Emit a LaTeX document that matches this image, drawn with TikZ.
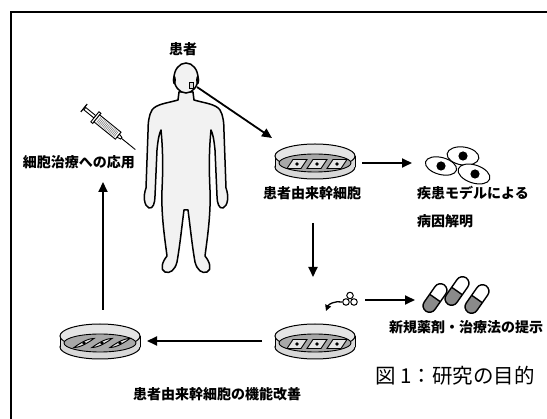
\documentclass[tikz,border=0pt]{standalone}
\usepackage{fontspec}
\newfontfamily\cjk{Noto Sans CJK JP}
\usetikzlibrary{arrows.meta}
\definecolor{bodyfill}{HTML}{F2F2F2}
\definecolor{wallfill}{HTML}{D8D8D8}
\definecolor{rimfill}{HTML}{E4E4E4}
\definecolor{mediumfill}{HTML}{A8A8A8}
\definecolor{pillgray}{HTML}{8A8A8A}
\tikzset{
  link/.style={line width=1.8pt,-{Triangle[length=10pt,width=9pt]}},
  lbl/.style={font=\cjk\bfseries\fontsize{14}{16}\selectfont,inner sep=0pt},
  captiontext/.style={font=\cjk\fontsize{20.5}{24}\selectfont,inner sep=0pt},
  cellline/.style={line width=0.9pt},
  pics/dish/.style={code={
    \filldraw[fill=wallfill,line width=1pt] (0,7) ellipse[x radius=40,y radius=12];
    \fill[wallfill] (-40,-4) rectangle (40,7);
    \draw[line width=1pt] (-40,-4) -- (-40,7) (40,-4) -- (40,7);
    \filldraw[fill=rimfill,line width=1pt] (0,-4) ellipse[x radius=40,y radius=12];
    \filldraw[fill=mediumfill,line width=0.9pt] (0,3) ellipse[x radius=36,y radius=9];
  }},
  pics/flatcell/.style={code={
    \filldraw[fill=rimfill,cellline] (-10,4.5) -- (4,4.5) -- (10,-4.5) -- (-4,-4.5) -- cycle;
    \fill (0,0) circle[radius=1.8];
  }},
  pics/longcell/.style={code={
    \filldraw[fill=rimfill,cellline] (-10,4.5) .. controls (-3,4.5) and (5,-1) .. (10,-4.5)
      .. controls (3,-4.5) and (-5,1) .. cycle;
    \fill (0,0) circle[radius=1.8];
  }},
  pics/capsule/.style={code={
    \begin{scope}
      \clip[rounded corners=6.5pt] (-16,-6.5) rectangle (16,6.5);
      \fill[white] (-16,-6.5) rectangle (16,6.5);
      \fill[pillgray] (-16,-6.5) rectangle (0,6.5);
    \end{scope}
    \draw[line width=1.4pt,rounded corners=6.5pt] (-16,-6.5) rectangle (16,6.5);
    \draw[line width=1.4pt] (0,-6.5) -- (0,6.5);
  }}
}
\begin{document}
\begin{tikzpicture}[x=1pt,y=-1pt]
\useasboundingbox (0,0) rectangle (547,419);

% frame
\draw[line width=2pt] (11,419) -- (11,12) -- (547,12);

% patient figure
\filldraw[fill=bodyfill,line width=1.5pt,line join=round]
  (179,92) -- (178,100)
  .. controls (168,103) and (156,104) .. (152,110)
  .. controls (149,115) and (148,122) .. (148,132)
  -- (146,188)
  .. controls (143,196) and (144,206) .. (149,208)
  .. controls (153,209) and (155,203) .. (155,196)
  -- (157,150)
  .. controls (158,140) and (159,134) .. (161,130)
  .. controls (163,150) and (163,170) .. (162,190)
  .. controls (161,215) and (165,240) .. (167,256)
  .. controls (162,262) and (160,270) .. (165,272)
  .. controls (170,274) and (175,270) .. (177,262)
  .. controls (180,245) and (182,225) .. (184,210)
  -- (188,210)
  .. controls (190,225) and (192,245) .. (195,262)
  .. controls (197,270) and (202,274) .. (207,272)
  .. controls (212,270) and (210,262) .. (205,256)
  .. controls (207,240) and (211,215) .. (210,190)
  .. controls (209,170) and (209,150) .. (211,130)
  .. controls (213,134) and (214,140) .. (215,150)
  -- (217,196)
  .. controls (217,203) and (219,209) .. (223,208)
  .. controls (228,206) and (229,196) .. (226,188)
  -- (224,132)
  .. controls (224,122) and (223,115) .. (220,110)
  .. controls (216,104) and (204,103) .. (194,100)
  -- (193,92) -- cycle;
\filldraw[fill=bodyfill,line width=1.5pt] (186,78) ellipse[x radius=12,y radius=15];
\fill (174.3,80) ellipse[x radius=1.6,y radius=4.5];
\fill (197.7,80) ellipse[x radius=1.6,y radius=4.5];
\filldraw[fill=wallfill,line width=0.5pt] (189,82) rectangle (193,88);
\coordinate (chin) at (197,87);
\node[lbl] (patient) at (183,49) {患者};

% syringe
\begin{scope}[shift={(84,108)},rotate=-39]
  \draw[line width=1.2pt] (0,-5) -- (0,5);
  \filldraw[fill=white,line width=0.9pt] (1,-1.5) rectangle (14,1.5);
  \filldraw[fill=white,line width=0.9pt] (14,-6.5) rectangle (16.5,6.5);
  \filldraw[fill=white,line width=0.9pt] (16.5,-4.5) rectangle (44,4.5);
  \foreach \t in {19,20.6,...,42}
    \draw[line width=0.6pt,gray] (\t,-3.3) -- (\t,3.3);
  \filldraw[fill=white,line width=0.9pt] (44,-2) -- (48,-1) -- (48,1) -- (44,2) -- cycle;
  \draw[line width=0.9pt] (48,0) -- (66,0);
\end{scope}
\node[lbl] (therapy) at (79,162) {細胞治療への応用};

% dishes
\pic at (315,160) {dish};
\foreach \dx in {-20,0,20} \pic at (315+\dx+2,164) {flatcell};
\pic at (315,340) {dish};
\foreach \dx in {-20,0,20} \pic at (315+\dx+2,344) {flatcell};
\pic at (100,340) {dish};
\foreach \dx in {-18,0,18} \pic at (100+\dx+2,343) {longcell};

\coordinate (dA-in) at (272,138);
\coordinate (dA-out) at (362,163);
\coordinate (dA-down) at (313,223);
\coordinate (dB-top) at (313,277);
\coordinate (dB-out) at (262,341);
\coordinate (dC-in) at (147,341);
\coordinate (dC-up) at (103,310);
\coordinate (therapy-in) at (103,182);

\node[lbl] (stem) at (312,193) {患者由来幹細胞};

% disease model cells
\coordinate (cells-in) at (412,163);
\begin{scope}[line width=1pt]
  \filldraw[fill=white,rotate around={-8:(463,156)}] (463,156) ellipse[x radius=16,y radius=9];
  \fill (463,156) circle[radius=4.6];
  \filldraw[fill=white,rotate around={-15:(441,166)}] (441,166) ellipse[x radius=16,y radius=8.5];
  \fill (441,166) circle[radius=4.6];
  \filldraw[fill=white,rotate around={-18:(474,174)}] (474,174) ellipse[x radius=16.5,y radius=9];
  \fill (475,174) circle[radius=4.6];
\end{scope}
\node[lbl,anchor=west,align=left,font=\cjk\bfseries\fontsize{14}{28}\selectfont] (model) at (417,207) {疾患モデルによる\\病因解明};

% compound cluster and capsules
\node[draw,circle,line width=1pt,minimum size=6.5pt,inner sep=0pt] (c1) at (350,295.5) {};
\node[draw,circle,line width=1pt,minimum size=6.5pt,inner sep=0pt] (c2) at (346,302) {};
\node[draw,circle,line width=1pt,minimum size=6.5pt,inner sep=0pt] (c3) at (354,302) {};
\coordinate (drop) at (326,311);
\coordinate (cluster-out) at (365,300);
\coordinate (pills-in) at (415,300);
\pic[rotate=55] at (435,298) {capsule};
\pic[rotate=55] at (457,291) {capsule};
\pic[rotate=55] at (477,299) {capsule};
\node[lbl] (drug) at (466,327) {新規薬剤・治療法の提示};

\node[lbl] (improve) at (217,394) {患者由来幹細胞の機能改善};
\node[captiontext] (caption) at (455,376) {図 1：研究の目的};

% connectors
\draw[link] (chin) -- (dA-in);
\draw[link] (dA-out) -- (cells-in);
\draw[link] (dA-down) -- (dB-top);
\draw[link] (cluster-out) -- (pills-in);
\draw[link] (dB-out) -- (dC-in);
\draw[link] (dC-up) -- (therapy-in);
\draw[line width=1.3pt,-{Triangle[length=6pt,width=6pt]}] (c2.west) to[bend right=40] (drop);
\end{tikzpicture}
\end{document}
